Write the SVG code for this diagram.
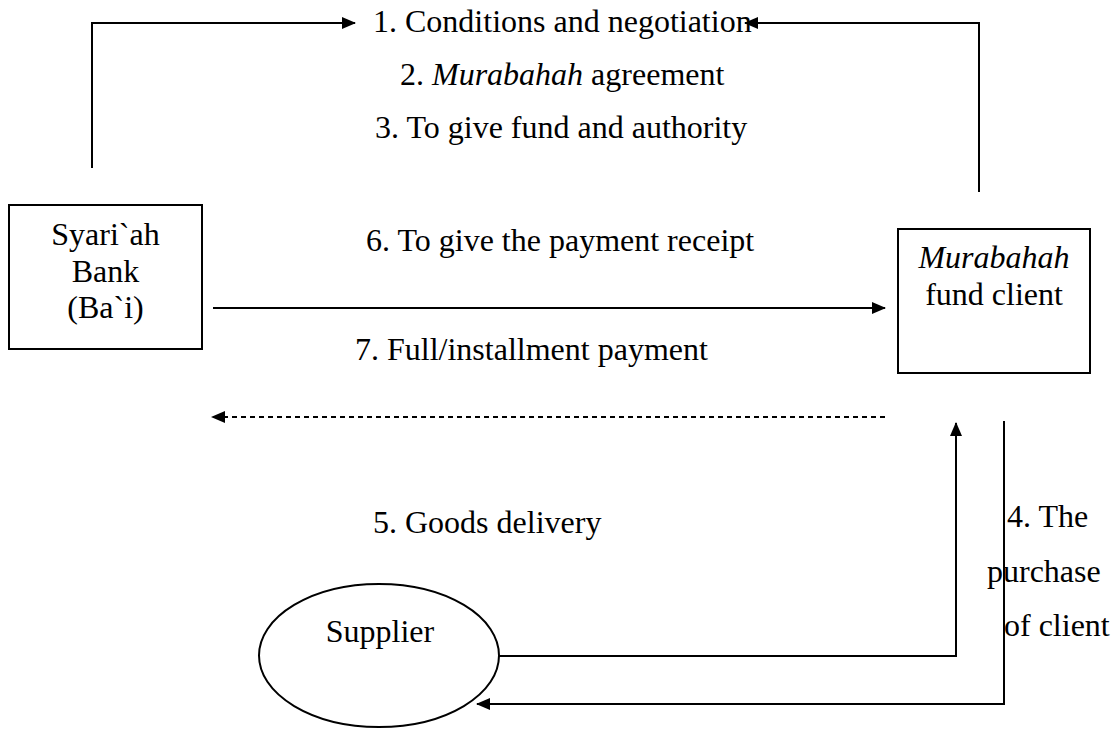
<svg xmlns="http://www.w3.org/2000/svg" width="1113" height="730" viewBox="0 0 1113 730">
<style>
text{font-family:"Liberation Serif","Times New Roman",serif;font-size:32px;fill:#000}
.it{font-style:italic}
.box{fill:#fff;stroke:#000;stroke-width:2}
.ln{fill:none;stroke:#000;stroke-width:2}
.dash{fill:none;stroke:#000;stroke-width:2;stroke-dasharray:5 4}
</style>
<defs>
<marker id="ah" markerUnits="userSpaceOnUse" markerWidth="14" markerHeight="12" refX="13" refY="6" orient="auto">
<path d="M0,0 L14,6 L0,12 z" fill="#000"/>
</marker>
</defs>
<rect width="1113" height="730" fill="#fff"/>
<g id="connectors">
<path class="ln" d="M92,168 V23 H355" marker-end="url(#ah)"/>
<path class="ln" d="M979,192 V23 H745" marker-end="url(#ah)"/>
<path class="ln" d="M213,308 H885" marker-end="url(#ah)"/>
<path class="dash" d="M885,417 H212" marker-end="url(#ah)"/>
<path class="ln" d="M499,656 H956 V423" marker-end="url(#ah)"/>
<path class="ln" d="M1004,421 V704 H477" marker-end="url(#ah)"/>
</g>
<g id="labels">
<text x="373" y="32">1. Conditions and negotiation</text>
<text x="400" y="85">2. <tspan class="it">Murabahah</tspan> agreement</text>
<text x="375" y="138">3. To give fund and authority</text>
<text x="366" y="251">6. To give the payment receipt</text>
<text x="355" y="360">7. Full/installment payment</text>
<text x="373" y="533">5. Goods delivery</text>
<text x="1007" y="527">4. The</text>
<text x="987" y="582">purchase</text>
<text x="1004" y="636">of client</text>
</g>
<g id="bank">
<rect class="box" x="9" y="205" width="193" height="144"/>
<text x="105.5" y="245" text-anchor="middle">Syari`ah</text>
<text x="105.5" y="282" text-anchor="middle">Bank</text>
<text x="105.5" y="318" text-anchor="middle">(Ba`i)</text>
</g>
<g id="client">
<rect class="box" x="898" y="229" width="192" height="144"/>
<text x="994" y="268" text-anchor="middle" class="it">Murabahah</text>
<text x="994" y="305" text-anchor="middle">fund client</text>
</g>
<g id="supplier">
<ellipse class="box" cx="379" cy="655.5" rx="120" ry="71.5"/>
<text x="380" y="642" text-anchor="middle">Supplier</text>
</g>
</svg>
